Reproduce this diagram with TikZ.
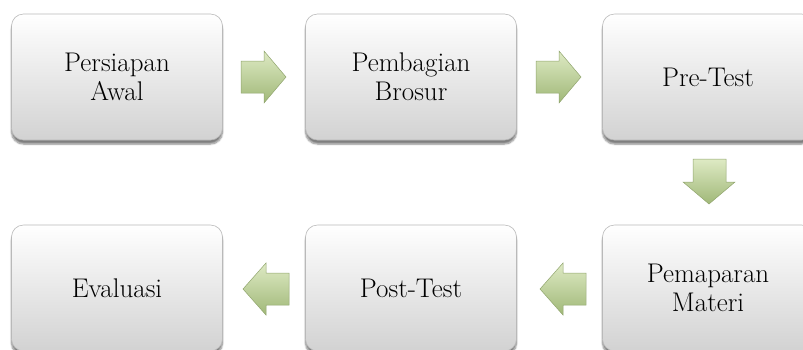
\documentclass[tikz,border=0pt]{standalone}
\usetikzlibrary{shadows.blur}
\definecolor{boxtop}{RGB}{255,255,255}
\definecolor{boxbot}{RGB}{210,210,210}
\definecolor{boxline}{RGB}{185,185,185}
\definecolor{arrtop}{RGB}{222,234,196}
\definecolor{arrbot}{RGB}{160,184,120}
\definecolor{arrline}{RGB}{145,165,110}
\tikzset{
  stepbox/.style={draw=boxline, line width=0.6pt, rounded corners=12pt,
    top color=boxtop, bottom color=boxbot, minimum width=211pt, minimum height=126pt,
    align=center, inner sep=0pt,
    font=\fontsize{27}{29}\selectfont,
    blur shadow={shadow xshift=0pt, shadow yshift=-4pt, shadow blur steps=6, shadow opacity=50}},
  blockarrow/.style={draw=arrline, line width=0.5pt, top color=arrtop, bottom color=arrbot, line join=miter}
}
\begin{document}
\begin{tikzpicture}[x=1pt,y=-1pt]
\useasboundingbox (0,0) rectangle (803,349);
\clip (0,0) rectangle (803,349);
\node[stepbox] (b1) at (117,77) {Persiapan\\Awal};
\node[stepbox] (b2) at (411,77) {Pembagian\\Brosur};
\node[stepbox] (b3) at (708,77) {Pre-Test};
\node[stepbox] (b4) at (708,288) {Pemaparan\\Materi};
\node[stepbox] (b5) at (411,288) {Post-Test};
\node[stepbox] (b6) at (117,288) {Evaluasi};
% right arrows
\path[blockarrow] (241,61) -- (264,61) -- (264,51) -- (286,77) -- (264,103) -- (264,93) -- (241,93) -- cycle;
\path[blockarrow] (536,61) -- (559,61) -- (559,51) -- (581,77) -- (559,103) -- (559,93) -- (536,93) -- cycle;
% down arrow
\path[blockarrow] (693,159) -- (726,159) -- (726,182) -- (735,182) -- (709,204) -- (683,182) -- (693,182) -- cycle;
% left arrows
\path[blockarrow] (586,273) -- (563,273) -- (563,263) -- (540,289) -- (563,315) -- (563,305) -- (586,305) -- cycle;
\path[blockarrow] (289,273) -- (266,273) -- (266,263) -- (243,289) -- (266,315) -- (266,305) -- (289,305) -- cycle;
\end{tikzpicture}
\end{document}
